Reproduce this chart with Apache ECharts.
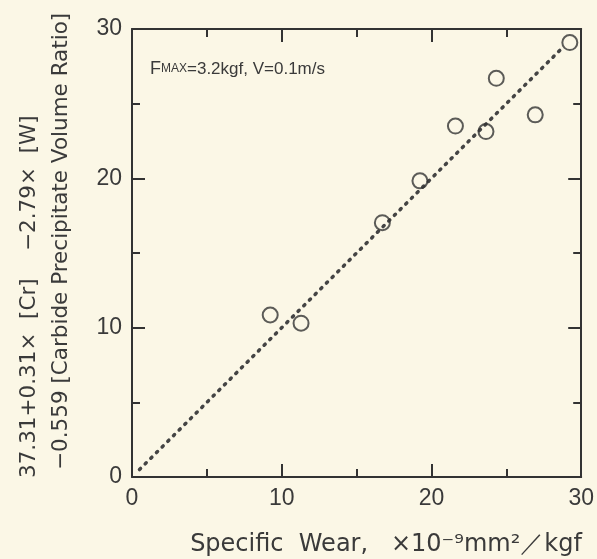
<!DOCTYPE html>
<html>
<head>
<meta charset="utf-8">
<script src="https://cdn.jsdelivr.net/npm/echarts@6/dist/echarts.min.js"></script>
<style>
html,body{margin:0;padding:0;background:#fbf7e6;}
#chart{width:597px;height:559px;}
</style>
</head>
<body>
<div id="chart"></div>
<script>
// Data
const wearX = [9.23, 11.29, 16.72, 19.23, 21.6, 23.64, 24.33, 26.93, 29.24];
const calcY = [10.85, 10.3, 17.03, 19.83, 23.5, 23.13, 26.7, 24.25, 29.09];
const fitX = [0.5, 28.8];
const fitY = [0.5, 28.8];
const tickLabels = [0, 10, 20, 30];
const xTitle = 'Specific  Wear,   ×10⁻⁹mm²／kgf';
const yTitle1 = '37.31+0.31×  [Cr]    −2.79×  [W]';
const yTitle2 = '−0.559 [Carbide Precipitate Volume Ratio]';
const noteF = 'F', noteSub = 'MAX', noteRest = '=3.2kgf, V=0.1m/s';

const ink = '#333';
const txt = '#3a3a3a';
const font = 'Liberation Sans, Arial, sans-serif';
const wide = 'DejaVu Sans, sans-serif';

function axisCommon(show) {
  return {
    type: 'value', min: 0, max: 30, interval: 10,
    axisLine: {show: true, onZero: false, lineStyle: {color: ink, width: 2}},
    axisTick: {show: true, inside: true, length: 13, lineStyle: {color: ink, width: 2}},
    minorTick: {show: true, splitNumber: 2, length: 8, lineStyle: {color: ink, width: 2}},
    splitLine: {show: false},
    minorSplitLine: {show: false},
    axisLabel: {show: show, fontSize: 23, color: txt, fontFamily: font, margin: 10,
      formatter: v => tickLabels.includes(v) ? String(v) : ''}
  };
}

const chart = echarts.init(document.getElementById('chart'));
chart.setOption({
  backgroundColor: '#fbf7e6',
  animation: false,
  grid: {left: 132, top: 29, right: 14, bottom: 82},
  xAxis: [
    Object.assign(axisCommon(true), {position: 'bottom'}),
    Object.assign(axisCommon(false), {position: 'top'})
  ],
  yAxis: [
    Object.assign(axisCommon(true), {position: 'left'}),
    Object.assign(axisCommon(false), {position: 'right'})
  ],
  series: [
    {
      type: 'line',
      data: fitX.map((x, i) => [x, fitY[i]]),
      showSymbol: false,
      lineStyle: {color: '#444', width: 3.5, type: [1.5, 6.5], cap: 'round'},
      z: 2
    },
    {
      type: 'scatter',
      data: wearX.map((x, i) => [x, calcY[i]]),
      symbol: 'circle',
      symbolSize: 15,
      itemStyle: {color: 'rgba(0,0,0,0)', borderColor: ink, borderWidth: 2},
      z: 3
    }
  ],
  graphic: [
    {
      type: 'text', x: 386, y: 545,
      style: {text: xTitle, fontSize: 24, fill: txt, fontFamily: wide, textAlign: 'center', textVerticalAlign: 'middle'}
    },
    {
      type: 'text', x: 29, y: 478, rotation: Math.PI / 2,
      style: {text: yTitle1, fontSize: 21.5, fill: txt, fontFamily: wide, textAlign: 'left', textVerticalAlign: 'middle'}
    },
    {
      type: 'text', x: 61, y: 470, rotation: Math.PI / 2,
      style: {text: yTitle2, fontSize: 21.5, fill: txt, fontFamily: wide, textAlign: 'left', textVerticalAlign: 'middle'}
    },
    {
      type: 'text', x: 150, y: 78,
      style: {
        rich: {
          f: {fontSize: 18, fill: txt, fontFamily: font},
          s: {fontSize: 12, fill: txt, fontFamily: font},
          r: {fontSize: 17, fill: txt, fontFamily: font}
        },
        text: '{f|' + noteF + '}{s|' + noteSub + '}{r|' + noteRest + '}',
        textVerticalAlign: 'bottom'
      }
    }
  ]
});
</script>
</body>
</html>
